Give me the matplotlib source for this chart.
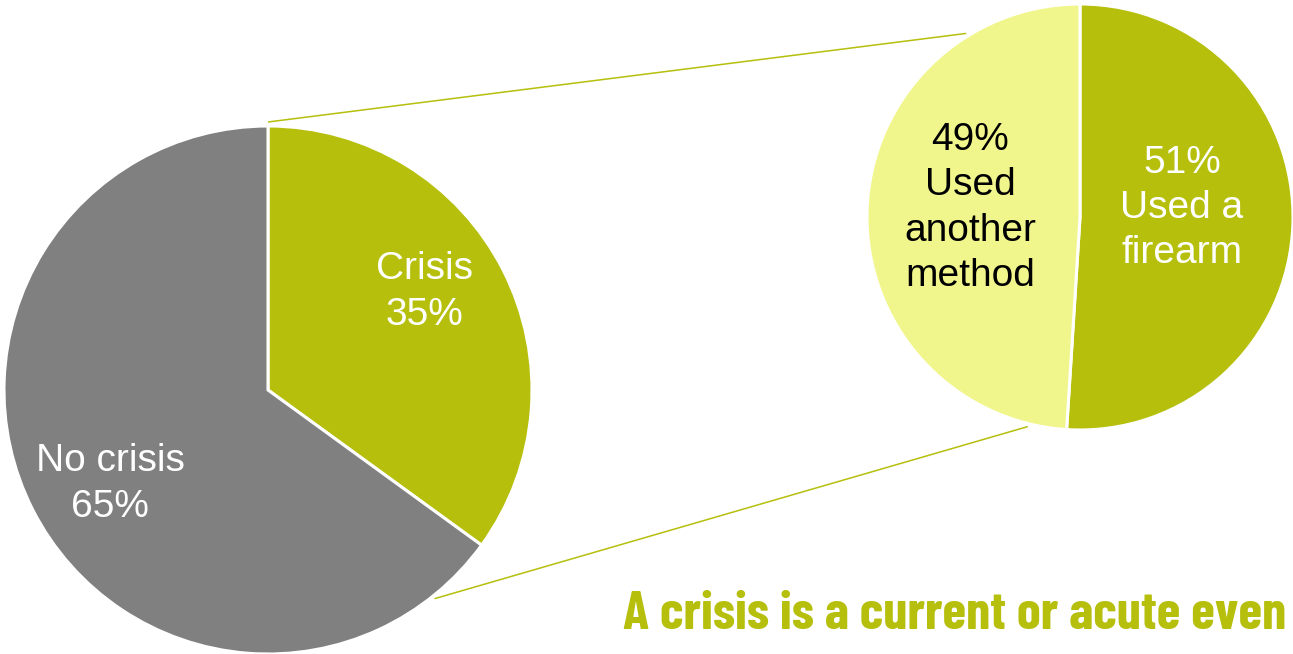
import numpy as np
import matplotlib
matplotlib.use("Agg")
import matplotlib.pyplot as plt

# data
crisis_labels = ["Crisis", "No crisis"]
crisis_values = [35, 65]
method_labels = ["Used a\nfirearm", "Used\nanother\nmethod"]
method_values = [51, 49]
note = "A crisis is a current or acute even"  # cut off like this in the source

gray = "#808080"
green = "#B5BF0C"
light = "#F1F68C"

W, H = 1293, 654
fig = plt.figure(figsize=(W / 100, H / 100), dpi=100)
ax = fig.add_axes([0, 0, 1, 1])

big_c, big_r = (268, 264), 264
small_c, small_r = (1080, 437), 213

wp = dict(edgecolor="white", linewidth=2.2)
ax.pie(crisis_values, colors=[green, gray], startangle=90, counterclock=False,
       center=big_c, radius=big_r, wedgeprops=wp, frame=True)
ax.pie(method_values, colors=[green, light], startangle=90, counterclock=False,
       center=small_c, radius=small_r, wedgeprops=wp, frame=True)
ax.set_xlim(0, W)
ax.set_ylim(0, H)
ax.set_aspect("equal")
ax.axis("off")

def on_circle(c, r, deg):
    t = np.radians(deg)
    return c[0] + r * np.cos(t), c[1] + r * np.sin(t)

# connector lines between the two pies
p1 = on_circle(big_c, big_r + 4, 90)
q1 = on_circle(small_c, small_r + 3, 121.8)
p2 = on_circle(big_c, big_r + 3, -51.4)
q2 = on_circle(small_c, small_r + 3, 256)
for p, q in [(p1, q1), (p2, q2)]:
    ax.plot([p[0], q[0]], [p[1], q[1]], color=green, lw=1.1, solid_capstyle="butt")

fs = 28
font = ["Liberation Sans", "DejaVu Sans"]
kw = dict(fontsize=fs, family=font, ha="center", va="center", linespacing=1.33)
ax.text(424, 362, f"{crisis_labels[0]}\n{crisis_values[0]}%", color="white", **kw)
ax.text(110, 170, f"{crisis_labels[1]}\n{crisis_values[1]}%", color="white", **kw)
ax.text(1182, 446, f"{method_values[0]}%\n{method_labels[0]}", color="white", **kw)
ax.text(970, 446, f"{method_values[1]}%\n{method_labels[1]}", color="black", **kw)

ax.text(623, 25, note, color=green, fontsize=39, fontweight="bold",
        family=["Barlow Condensed", "DejaVu Sans"], ha="left", va="baseline")

fig.savefig("out.png", dpi=100)
